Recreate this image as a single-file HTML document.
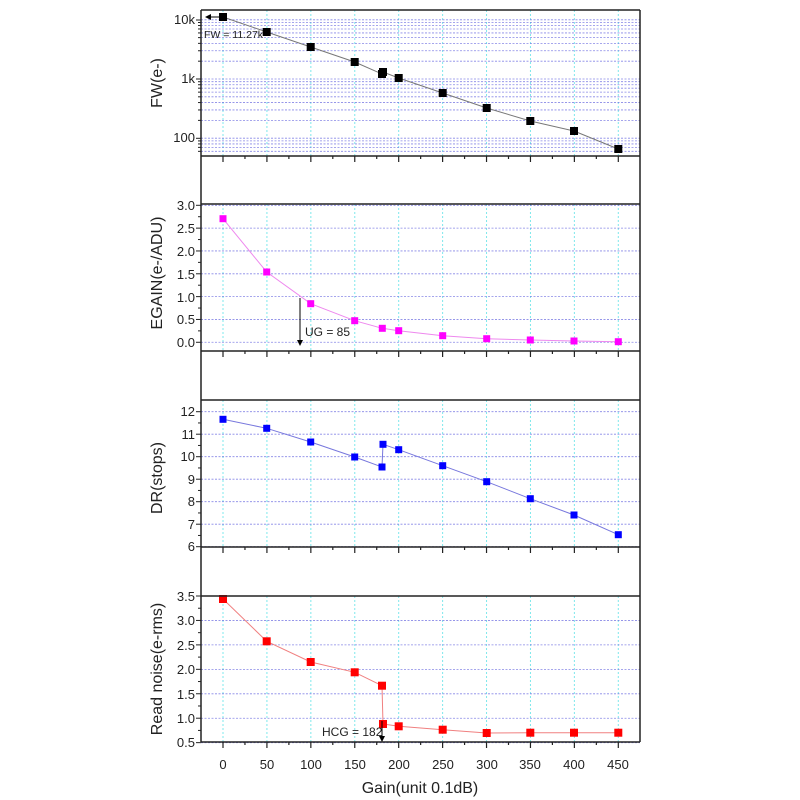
<!DOCTYPE html>
<html><head><meta charset="utf-8"><style>
html,body{margin:0;padding:0;background:#fff;}
svg{display:block;font-family:"Liberation Sans",Arial,sans-serif;}
</style></head><body>
<svg id="s" width="800" height="800" viewBox="0 0 800 800" xmlns="http://www.w3.org/2000/svg">
<defs>
<marker id="ah" markerWidth="6" markerHeight="6" refX="5" refY="3" orient="auto"><path d="M0,0 L6,3 L0,6 z" fill="#000"/></marker>
</defs>
<g id="grid"></g>
<g id="data"></g>
<g id="axes"></g>
<g font-size="13" fill="#222" text-anchor="end">
<text x="195" y="24">10k</text><text x="195" y="83">1k</text><text x="195" y="142">100</text>
<text x="195" y="210">3.0</text><text x="195" y="233">2.5</text><text x="195" y="256">2.0</text><text x="195" y="279">1.5</text><text x="195" y="302">1.0</text><text x="195" y="324">0.5</text><text x="195" y="347">0.0</text>
<text x="195" y="416">12</text><text x="195" y="439">11</text><text x="195" y="461">10</text><text x="195" y="484">9</text><text x="195" y="506">8</text><text x="195" y="529">7</text><text x="195" y="551">6</text>
<text x="195" y="601">3.5</text><text x="195" y="625">3.0</text><text x="195" y="650">2.5</text><text x="195" y="674">2.0</text><text x="195" y="699">1.5</text><text x="195" y="723">1.0</text><text x="195" y="747">0.5</text>
</g>
<g font-size="13" fill="#222" text-anchor="middle">
<text x="223" y="769">0</text><text x="267" y="769">50</text><text x="311" y="769">100</text><text x="355" y="769">150</text><text x="399" y="769">200</text><text x="443" y="769">250</text><text x="487" y="769">300</text><text x="530" y="769">350</text><text x="574" y="769">400</text><text x="618" y="769">450</text>
</g>
<text x="420" y="793" font-size="16" text-anchor="middle" fill="#222">Gain(unit 0.1dB)</text>
<g font-size="16" fill="#222" text-anchor="middle">
<text transform="translate(162,83) rotate(-90)">FW(e-)</text>
<text transform="translate(162,273) rotate(-90)">EGAIN(e-/ADU)</text>
<text transform="translate(162,478) rotate(-90)">DR(stops)</text>
<text transform="translate(162,669) rotate(-90)">Read noise(e-rms)</text>
</g>
<g font-size="10.5" fill="#222">
<text x="204" y="38">FW = 11.27k</text>
<text x="305" y="336" font-size="12">UG = 85</text>
<text x="322" y="736" font-size="12">HCG = 182</text>
</g>
<line x1="220" y1="17" x2="206" y2="17" stroke="#000" stroke-width="1" marker-end="url(#ah)"/>
<line x1="300" y1="298" x2="300" y2="345" stroke="#000" stroke-width="1" marker-end="url(#ah)"/>
<line x1="382" y1="721" x2="382" y2="741" stroke="#000" stroke-width="1" marker-end="url(#ah)"/>
</svg>
<script>
const NS="http://www.w3.org/2000/svg";
function el(p,t,a){const e=document.createElementNS(NS,t);for(const k in a)e.setAttribute(k,a[k]);document.getElementById(p).appendChild(e);return e;}
const L=201,R=640;
const X=v=>223+v*(395.3/450);
const panels=[[10,156],[204,351],[400,547],[596,742]];
panels.forEach(p=>{for(let v=0;v<=450;v+=50)el("grid","line",{x1:X(v),x2:X(v),y1:p[0],y2:p[1],stroke:"#7fe8ec","stroke-width":1,"stroke-dasharray":"2,2"});});
function hg(y){el("grid","line",{x1:L,x2:R,y1:y,y2:y,stroke:"#6a6ae0","stroke-width":0.8,"stroke-dasharray":"2,1.5",opacity:0.8});}
const fy=v=>79-59.2*(Math.log10(v)-3);
[50,60,70,80,90,100,200,300,400,500,600,700,800,900,1000,2000,3000,4000,5000,6000,7000,8000,9000,10000,20000].forEach(v=>{const y=fy(v);if(y>11&&y<155)hg(y);});
for(let i=0;i<=6;i++)hg(205.3+i*22.83);
for(let i=0;i<=6;i++)hg(411.7+i*22.5);
for(let i=1;i<=6;i++)hg(596+i*24.45);
el("axes","line",{x1:L,x2:L,y1:10,y2:742,stroke:"#222","stroke-width":1.5});
el("axes","line",{x1:R,x2:R,y1:10,y2:742,stroke:"#222","stroke-width":1.5});
[10,156,204,351,400,547,596,742].forEach(y=>el("axes","line",{x1:L,x2:R,y1:y,y2:y,stroke:"#222","stroke-width":1.5}));
[156,351,547,742].forEach(y=>{for(let v=0;v<=450;v+=25){el("axes","line",{x1:X(v),x2:X(v),y1:y,y2:y+(v%50?3:6),stroke:"#222","stroke-width":1.2});}});
function yt(y,maj){el("axes","line",{x1:L,x2:L-(maj?5:3),y1:y,y2:y,stroke:"#222","stroke-width":1});}
[20,79,138.3].forEach(y=>yt(y,1));
[50,60,70,80,90,200,300,400,500,600,700,800,900,2000,3000,4000,5000,6000,7000,8000,9000].forEach(v=>{const y=fy(v);if(y>10&&y<156)yt(y,0);});
for(let i=0;i<=12;i++)yt(205.3+i*11.415,i%2==0);
for(let i=0;i<=12;i++)yt(411.7+i*11.25,i%2==0);
for(let i=0;i<=12;i++)yt(596+i*12.22,i%2==0);
function series(pts,line,fill,sz){
  el("data","polyline",{points:pts.map(p=>p.join(",")).join(" "),fill:"none",stroke:line,"stroke-width":1});
  pts.forEach(p=>el("data","rect",{x:p[0]-sz/2,y:p[1]-sz/2,width:sz,height:sz,fill:fill}));
}
series([[223,17],[266.7,32],[310.7,47],[354.7,62],[382,74],[383,72],[398.7,78],[442.7,93],[486.7,108],[530.3,121],[574,131],[618.3,149]],"#777","#000",8);
series([[223,218.7],[266.7,272],[310.7,303.7],[354.7,320.7],[382.3,328.3],[398.7,330.7],[442.7,335.7],[486.7,338.7],[530.3,340],[574,341],[618.3,341.7]],"#ee88ee","#f0f",7);
series([[223,419.3],[266.7,428.3],[310.7,442],[354.7,457],[382,467],[383,444.3],[398.7,449.7],[442.7,465.7],[486.7,481.7],[530.3,498.7],[574,515],[618.3,534.7]],"#7777dd","#00f",7);
series([[223,599],[266.7,641.3],[310.7,662],[354.7,672.3],[382,685.7],[383,724],[398.7,726.3],[442.7,729.7],[486.7,733],[530.3,732.7],[574,732.7],[618.3,732.7]],"#f08080","#f00",8);
</script>
</body></html>
